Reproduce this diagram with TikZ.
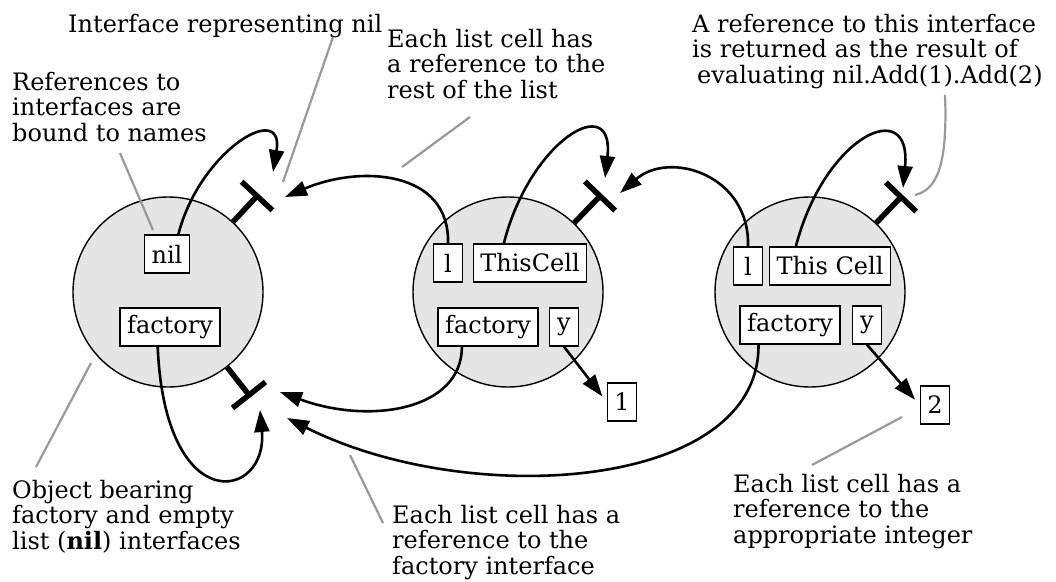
\documentclass[tikz,border=0pt]{standalone}
\usepackage{fontspec}
\setmainfont{DejaVu Serif}
\usetikzlibrary{arrows.meta,calc}

\begin{document}
\begin{tikzpicture}[
  x=1pt,y=-1pt,
  every node/.style={font=\fontsize{24}{25.5}\selectfont},
  cell/.style={circle,draw,line width=1.4pt,fill=black!10,minimum size=190pt,inner sep=0pt},
  slot/.style={draw,line width=1.4pt,fill=white,inner xsep=7pt,inner ysep=0pt,minimum height=38pt,minimum width=29pt},
  note/.style={align=left,anchor=north west,inner sep=0pt},
  ref/.style={line width=2.6pt,-{Triangle[length=22pt,width=15pt]}},
  stem/.style={line width=5.5pt},
  callout/.style={black!40,line width=2.2pt}
]
  \useasboundingbox (0,0) rectangle (1056,581);

  \node[cell] (c1) at (168,292) {};
  \node[cell] (c2) at (508,292) {};
  \node[cell] (c3) at (810,292) {};

  \node[slot] (nil) at (167,254) {nil};
  \node[slot] (fac1) at (170,327) {factory};
  \node[slot] (l1) at (448,263) {l};
  \node[slot] (tc1) at (530,263) {ThisCell};
  \node[slot] (fac2) at (488,327) {factory};
  \node[slot] (y1) at (564,327) {y};
  \node[slot] (one) at (622,402) {1};
  \node[slot] (l2) at (748,266) {l};
  \node[slot] (tc2) at (830,266) {This Cell};
  \node[slot] (fac3) at (790,325) {factory};
  \node[slot] (y2) at (867,325) {y};
  \node[slot] (two) at (935,405) {2};

  \coordinate (i1) at (257,196);
  \coordinate (i2) at (249,395);
  \coordinate (i3) at (600,196);
  \coordinate (i4) at (901,197);
  \foreach \c/\i in {c1/i1,c1/i2,c2/i3,c3/i4} {
    \draw[stem] (\i) -- (\c);
    \draw[stem] ($(\i)!21pt!90:(\c)$) -- ($(\i)!21pt!-90:(\c)$);
  }

  \coordinate (nilin) at (273,172);
  \coordinate (restin) at (285,197);
  \coordinate (tc1in) at (605,178);
  \coordinate (restin2) at (620,193);
  \coordinate (tc2in) at (903,188);
  \coordinate (facin1) at (260,410);
  \coordinate (facin2) at (280,392);
  \coordinate (facin3) at (287,418);

  \draw[ref] (nil.60) .. controls (200,150) and (285,100) .. (nilin);
  \draw[ref] (l1.north) .. controls (450,170) and (360,165) .. (restin);
  \draw[ref] (tc1.143) .. controls (530,140) and (615,90) .. (tc1in);
  \draw[ref] (l2.north) .. controls (750,175) and (670,150) .. (restin2);
  \draw[ref] (tc2.150) .. controls (825,135) and (912,95) .. (tc2in);
  \draw[ref] (fac1.-122) .. controls (165,520) and (268,500) .. (facin1);
  \draw[ref] (fac2.-143) .. controls (462,410) and (370,425) .. (facin2);
  \draw[ref] (fac3.-148) .. controls (760,490) and (470,510) .. (facin3);
  \draw[ref,shorten >=7pt] (y1.south) -- (one.west);
  \draw[ref,shorten >=7pt] (y2.south) -- (two.west);

  \node[note] (lblnil) at (68,14) {Interface representing nil};
  \node[note] (lblref) at (12,72) {References to\\interfaces are\\bound to names};
  \node[note] (lblrest) at (387,29) {Each list cell has\\a reference to the\\rest of the list};
  \node[note] (lblret) at (692,14) {A reference to this interface\\is returned as the result of\\\hspace{5pt}evaluating nil.Add(1).Add(2)};
  \node[note] (lblobj) at (12,480) {Object bearing\\factory and empty\\list (\textbf{nil}) interfaces};
  \node[note] (lblfac) at (392,505) {Each list cell has a\\reference to the\\factory interface};
  \node[note] (lblint) at (733,474) {Each list cell has a\\reference to the\\appropriate integer};

  \coordinate (g1a) at (333,37);  \coordinate (g1b) at (283,182);
  \coordinate (g2a) at (120,153); \coordinate (g2b) at (153,230);
  \coordinate (g3a) at (470,117); \coordinate (g3b) at (402,167);
  \coordinate (g4a) at (945,95);  \coordinate (g4b) at (915,195);
  \coordinate (g5a) at (36,467);  \coordinate (g5b) at (91,363);
  \coordinate (g6a) at (383,523); \coordinate (g6b) at (350,455);
  \coordinate (g7a) at (812,465); \coordinate (g7b) at (902,417);
  \draw[callout] (g1a) -- (g1b);
  \draw[callout] (g2a) -- (g2b);
  \draw[callout] (g3a) -- (g3b);
  \draw[callout] (g4a) .. controls (948,170) and (935,190) .. (g4b);
  \draw[callout] (g5a) -- (g5b);
  \draw[callout] (g6a) -- (g6b);
  \draw[callout] (g7a) -- (g7b);
\end{tikzpicture}
\end{document}
